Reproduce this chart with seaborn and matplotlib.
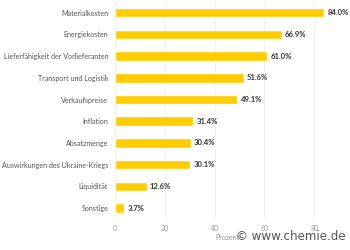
import matplotlib
matplotlib.use("Agg")
import matplotlib.pyplot as plt
import seaborn as sns
import pandas as pd

categories = ["Materialkosten", "Energiekosten", "Lieferfähigkeit der Vorlieferanten",
              "Transport und Logistik", "Verkaufspreise", "Inflation", "Absatzmenge",
              "Auswirkungen des Ukraine-Kriegs", "Liquidität", "Sonstige"]
values = [84.0, 66.9, 61.0, 51.6, 49.1, 31.4, 30.4, 30.1, 12.6, 3.7]
xticks = [0, 20, 40, 60, 80]

sns.set_theme(style="white")
plt.rcParams['font.family'] = ['Lato', 'DejaVu Sans']

df = pd.DataFrame({"cat": categories, "val": values})
fig = plt.figure(figsize=(3.5, 2.5), dpi=100)
ax = fig.add_axes([0.329, 0.124, 0.64, 0.869])
sns.barplot(data=df, y="cat", x="val", orient="h", color="#FFCC00", saturation=1,
            width=0.44, ax=ax)
ax.set_xlim(0, 90)
ax.set_xticks(xticks)
ax.set_xticklabels([str(t) for t in xticks], fontsize=5, color="#999999")
ax.tick_params(axis='y', labelsize=5.1, labelcolor="#555555", length=0, pad=5)
ax.tick_params(axis='x', length=0, pad=4)
ax.xaxis.grid(True, color="#eeeeee", linewidth=0.6)
ax.set_axisbelow(True)
for s in ax.spines.values():
    s.set_visible(False)
ax.set_ylabel("")
ax.set_xlabel("Prozent", fontsize=5, color="#999999", labelpad=2)
for i, v in enumerate(values):
    ax.text(v + 1.3, i, f"{v:.1f}%", va="center", ha="left", fontsize=5.5,
            fontweight="bold", color="#333333")
fig.text(0.987, 0.055, "© www.chemie.de", ha="right", va="center", fontsize=8.6,
         color="#555555", family=["DejaVu Sans"])
fig.savefig("out.png", dpi=100)
